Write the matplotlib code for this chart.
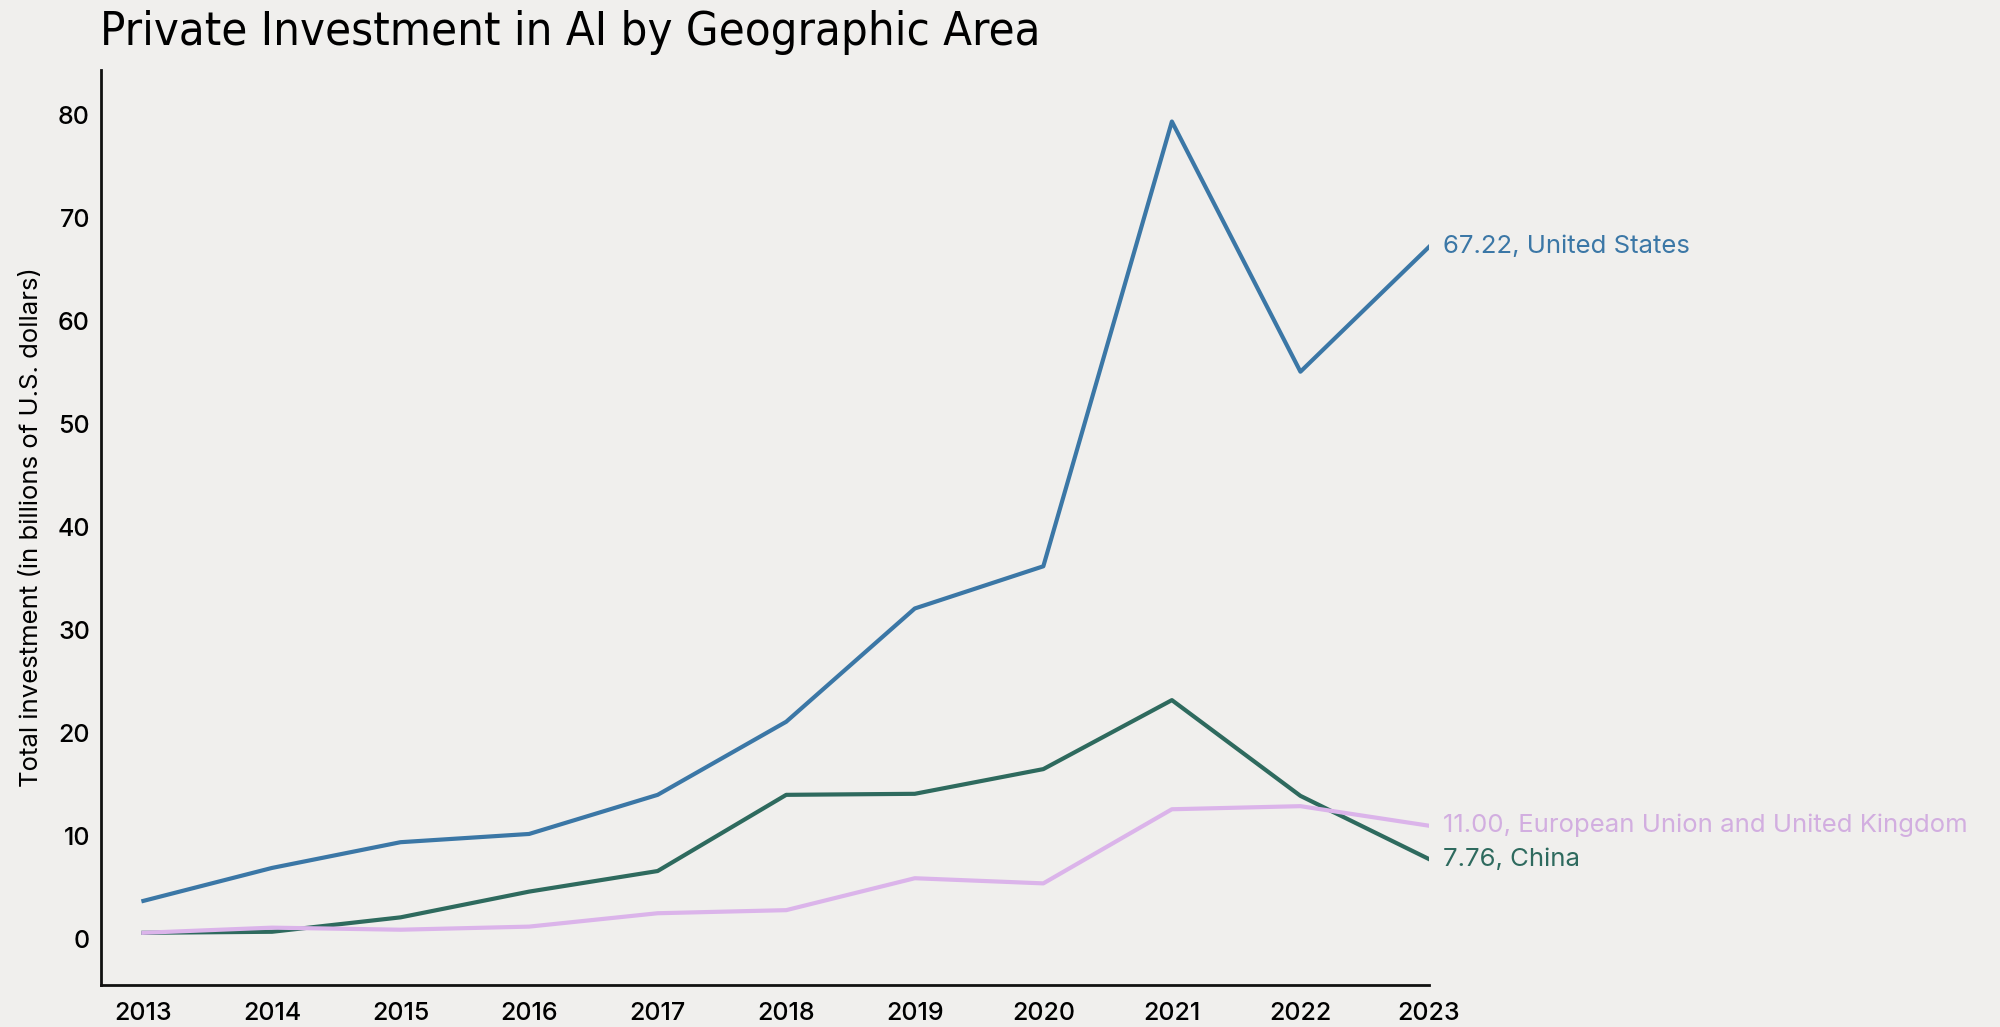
import matplotlib
matplotlib.use("Agg")
import matplotlib.pyplot as plt

years = [2013, 2014, 2015, 2016, 2017, 2018, 2019, 2020, 2021, 2022, 2023]
us = [3.7, 6.9, 9.4, 10.2, 14.0, 21.1, 32.1, 36.2, 79.4, 55.1, 67.22]
china = [0.6, 0.7, 2.1, 4.6, 6.6, 14.0, 14.1, 16.5, 23.2, 13.9, 7.76]
eu_uk = [0.6, 1.1, 0.9, 1.2, 2.5, 2.8, 5.9, 5.4, 12.6, 12.9, 11.00]
yticks = [0, 10, 20, 30, 40, 50, 60, 70, 80]

bg = "#f0efed"
c_us = "#3b77a6"
c_cn = "#2e6a5e"
c_eu = "#dbb4ea"

plt.rcParams['font.family'] = ['Inter', 'DejaVu Sans']

fig = plt.figure(figsize=(20, 10.27), dpi=100, facecolor=bg)
ax = fig.add_axes([0.0505, 0.0409, 0.664, 0.8909])
ax.set_facecolor(bg)

ax.plot(years, us, color=c_us, lw=3)
ax.plot(years, china, color=c_cn, lw=3)
ax.plot(years, eu_uk, color=c_eu, lw=3)

ax.set_xlim(2012.67, 2023)
ax.set_ylim(-4.47, 84.4)
ax.set_xticks(years)
ax.set_yticks(yticks)
ax.tick_params(length=0, labelsize=18, pad=12)
ax.tick_params(axis='y', pad=8)
for lab in ax.get_xticklabels() + ax.get_yticklabels():
    lab.set_fontweight('medium')
for s in ['top', 'right']:
    ax.spines[s].set_visible(False)
for s in ['left', 'bottom']:
    ax.spines[s].set_linewidth(2)
    ax.spines[s].set_color("#111111")

ax.set_ylabel("Total investment (in billions of U.S. dollars)", fontsize=18.5, labelpad=10)

ax.annotate(f"{us[-1]:.2f}, United States", (years[-1], us[-1]), xytext=(14, 0),
            textcoords='offset pixels', va='center', fontsize=18.5, color=c_us, annotation_clip=False)
ax.annotate(f"{eu_uk[-1]:.2f}, European Union and United Kingdom", (years[-1], eu_uk[-1]), xytext=(14, 0),
            textcoords='offset pixels', va='center', fontsize=18.5, color="#d2aee0", annotation_clip=False)
ax.annotate(f"{china[-1]:.2f}, China", (years[-1], china[-1]), xytext=(14, 0),
            textcoords='offset pixels', va='center', fontsize=18.5, color=c_cn, annotation_clip=False)

title = fig.text(0.05, 0.99, "Private Investment in AI by Geographic Area", fontsize=36,
                 family='DejaVu Sans', fontstretch='condensed', va='top', ha='left')
# shrink the title so it spans roughly the same width as the original
fig.canvas.draw()
w = title.get_window_extent().width
title.set_fontsize(36 * 940 / w)

fig.savefig("out.png", facecolor=bg)
